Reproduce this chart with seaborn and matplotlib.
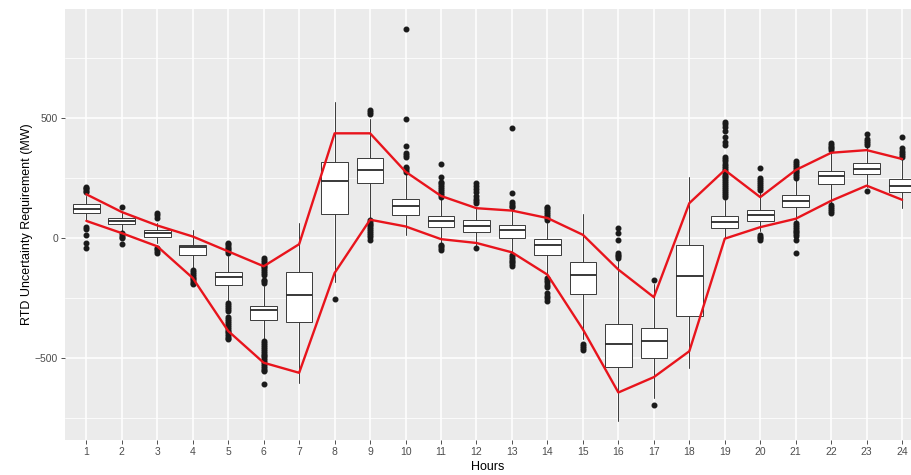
import numpy as np
import matplotlib
matplotlib.use("Agg")
import matplotlib.pyplot as plt
import seaborn as sns

# box statistics per hour (MW)
hours = list(range(1, 25))
q1 = [103, 58, 6, -70, -197, -343, -351, 99, 228, 96, 44, 25,
      0, -70, -232, -538, -502, -326, 41, 71, 131, 224, 267, 193]
med = [121, 71, 20, -39, -162, -302, -236, 238, 283, 135, 71, 51,
       34, -31, -154, -444, -430, -157, 66, 94, 155, 258, 289, 217]
q3 = [142, 83, 34, -28, -143, -282, -142, 318, 335, 163, 93, 73,
      55, -5, -102, -358, -374, -28, 92, 117, 177, 279, 311, 246]
whis_lo = [76, 27, -20, -132, -264, -423, -603, -185, 83, 13, -21, -35,
           -63, -160, -423, -762, -665, -543, 0, 27, 69, 145, 214, 124]
whis_hi = [175, 103, 62, 34, -77, -201, 62, 567, 494, 270, 165, 131,
           124, 62, 99, -97, -194, 256, 159, 193, 242, 359, 380, 332]

outliers = {
    1: [190, 197, 203, 208, 212, 46, 38, 12, -20, -42],
    2: [127, 20, 12, 5, 0, -24],
    3: [83, 95, 103, -41, -48, -55, -62],
    4: [-135, -143, -150, -158, -165, -172, -180, -187, -194],
    5: [-20, -27, -34, -41, -48, -55, -62,
        -273, -281, -289, -297, -305, -330, -338, -346, -354, -362,
        -370, -378, -386, -394, -402, -410, -418, -423],
    6: [-83, -91, -99, -107, -115, -123, -131, -139, -147, -153,
        -174, -181, -187,
        -430, -438, -446, -454, -462, -470, -478, -486, -494, -502,
        -510, -518, -526, -534, -542, -550, -555, -607],
    7: [],
    8: [-253],
    9: [516, 524, 533, 76, 68, 60, 52, 44, 36, 28, 20, 12, 4, -7],
    10: [276, 283, 290, 297, 339, 347, 355, 384, 495, 872],
    11: [172, 180, 188, 196, 204, 212, 220, 228, 235, 256, 307,
         -28, -35, -42, -49],
    12: [146, 154, 162, 175, 190, 205, 215, 229, -42],
    13: [127, 135, 143, 150, 189, 457, -70, -78, -86, -94, -102, -110, -118],
    14: [76, 84, 92, 100, 108, 116, 124, 131,
         -166, -175, -185, -195, -203, -228, -240, -252, -264],
    15: [-444, -452, -460, -467],
    16: [-84, -77, -70, -63, -10, 20, 41],
    17: [-176, -697],
    18: [],
    19: [172, 180, 188, 196, 204, 212, 220, 228, 236, 244, 252, 260,
         268, 276, 284, 292, 300, 310, 320, 330, 339,
         387, 401, 422, 445, 463, 473, 484],
    20: [200, 208, 216, 224, 232, 240, 249, 290, 13, 6, -1, -7],
    21: [249, 257, 265, 273, 281, 289, 297, 305, 313, 322,
         63, 55, 47, 39, 31, 23, 15, 7, -7, -63],
    22: [366, 373, 380, 387, 394, 138, 130, 122, 114, 106],
    23: [387, 395, 403, 411, 432, 196],
    24: [339, 347, 355, 363, 376, 422],
}

# red requirement envelopes
upper = [182, 108, 52, 6, -56, -118, -26, 436, 436, 276, 175, 124,
         114, 83, 13, -132, -247, 145, 283, 170, 283, 355, 366, 329]
lower = [71, 20, -35, -167, -388, -520, -562, -146, 76, 48, -5, -21,
         -60, -153, -381, -644, -580, -472, -3, 45, 80, 155, 218, 159]

sns.set_theme(style="darkgrid", rc={
    "axes.facecolor": "#EBEBEB",
    "grid.color": "white",
    "axes.edgecolor": "#EBEBEB",
})
plt.rcParams["font.family"] = ["Liberation Sans", "DejaVu Sans"]

fig = plt.figure(figsize=(9.11, 4.75), dpi=100)
ax = fig.add_axes([0.0714, 0.0737, 0.9286, 0.9073])

stats = []
for i, h in enumerate(hours):
    stats.append({
        "med": med[i], "q1": q1[i], "q3": q3[i],
        "whislo": whis_lo[i], "whishi": whis_hi[i],
        "fliers": outliers[h],
    })

ax.bxp(stats, positions=hours, widths=0.75, patch_artist=True,
       boxprops=dict(facecolor="white", edgecolor="#3A3A3A", linewidth=0.7),
       medianprops=dict(color="#2A2A2A", linewidth=1.3),
       whiskerprops=dict(color="#3A3A3A", linewidth=0.7),
       capprops=dict(linewidth=0),
       flierprops=dict(marker="o", markerfacecolor="#1A1A1A",
                       markeredgecolor="#1A1A1A", markersize=3.3))

sns.lineplot(x=hours, y=upper, color="#E8141C", linewidth=1.7, ax=ax, zorder=5)
sns.lineplot(x=hours, y=lower, color="#E8141C", linewidth=1.7, ax=ax, zorder=5)

ax.set_xlim(0.4, 24.25)
ax.set_ylim(-842, 954)
ax.set_xticks(hours)
ax.set_xticklabels([str(h) for h in hours])
ax.set_yticks([-500, 0, 500])
ax.set_yticks([-750, -250, 250, 750], minor=True)
ax.grid(which="major", color="white", linewidth=1.1)
ax.grid(which="minor", color="white", linewidth=0.55)
ax.tick_params(axis="both", which="major", labelsize=7.5, labelcolor="#4D4D4D",
               color="#333333", length=3, width=0.6, direction="out",
               bottom=True, left=True, pad=2)
ax.tick_params(axis="both", which="minor", length=0)
ax.set_xlabel("Hours", fontsize=9, color="black", labelpad=3)
ax.set_ylabel("RTD Uncertainty Requirement (MW)", fontsize=9, color="black", labelpad=1)
for s in ax.spines.values():
    s.set_visible(False)

fig.savefig("out.png", dpi=100)
